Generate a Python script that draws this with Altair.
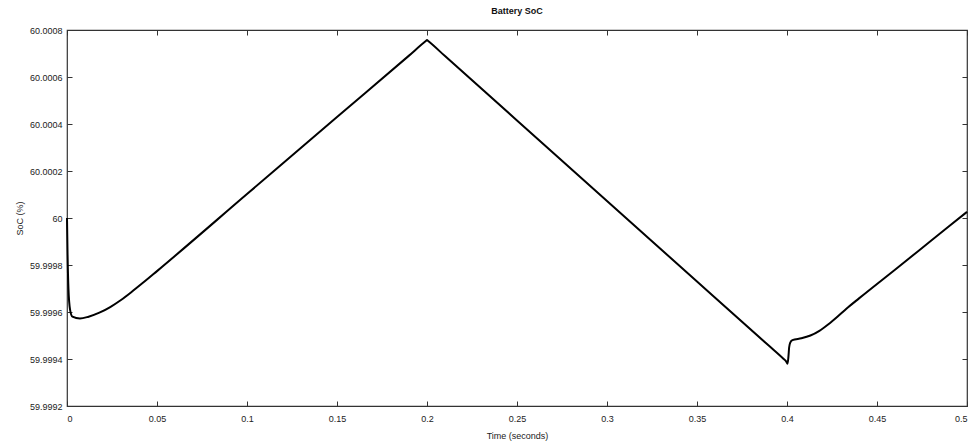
import altair as alt
import pandas as pd

# Time (s) and state of charge (%)
time_s = [0.0, 0.0003, 0.0008, 0.0017, 0.003, 0.0072, 0.012, 0.018, 0.024, 0.030,
          0.036, 0.042, 0.05, 0.1, 0.15, 0.19, 0.1995, 0.2, 0.2005, 0.21, 0.25,
          0.3, 0.35, 0.39, 0.398, 0.3995, 0.4003, 0.4008, 0.4012, 0.4018, 0.403,
          0.408, 0.413, 0.418, 0.423, 0.428, 0.433, 0.44, 0.46, 0.48, 0.5]
soc_pct = [60.0, 59.99985, 59.9997, 59.99961, 59.99958, 59.999572, 59.99958, 59.999597,
           59.999621, 59.999651, 59.999686, 59.999723, 59.999774, 60.000102, 60.00043,
           60.000691, 60.000754, 60.000757, 60.000754, 60.000689, 60.000415,
           60.000072, 59.99973, 59.999456, 59.999401, 59.99939,
           59.99938, 59.99941, 59.99945, 59.99947, 59.99948,
           59.999488, 59.9995, 59.99952, 59.999548, 59.99958, 59.999614, 59.999658,
           59.99978, 59.999903, 60.000026]

x_ticks = [0, 0.05, 0.1, 0.15, 0.2, 0.25, 0.3, 0.35, 0.4, 0.45, 0.5]
y_ticks = [59.9992, 59.9994, 59.9996, 59.9998, 60.0, 60.0002, 60.0004, 60.0006, 60.0008]

df = pd.DataFrame({"t": time_s, "soc": soc_pct})

FONT = "Liberation Sans"
xs = alt.Scale(domain=[0, 0.5], nice=False, zero=False)
ys = alt.Scale(domain=[59.9992, 60.0008], nice=False, zero=False)

main = alt.Chart(df).mark_line(color="black", strokeWidth=2, interpolate="monotone").encode(
    x=alt.X("t:Q", scale=xs, axis=alt.Axis(
        orient="bottom", values=x_ticks, format=".2~f", ticks=False, domain=False,
        grid=False, title="Time (seconds)", labelPadding=8, titlePadding=8)),
    y=alt.Y("soc:Q", scale=ys, axis=alt.Axis(
        orient="left", values=y_ticks, format=".6~r", ticks=False, domain=False,
        grid=False, title="SoC (%)", labelPadding=5, titlePadding=5)),
)

def tick_layer(xo, yo):
    return alt.Chart(df).mark_line(opacity=0).encode(
        x=alt.X("t:Q", scale=xs, axis=alt.Axis(
            orient=xo, values=x_ticks, labels=False, domain=False, grid=False,
            ticks=True, tickSize=5, offset=-5, tickColor="#333", title=None)),
        y=alt.Y("soc:Q", scale=ys, axis=alt.Axis(
            orient=yo, values=y_ticks, labels=False, domain=False, grid=False,
            ticks=True, tickSize=5, offset=-5, tickColor="#333", title=None)),
    )

chart = alt.layer(main, tick_layer("bottom", "left"), tick_layer("top", "right")).resolve_axis(
    x="independent", y="independent"
).properties(
    width=900, height=376,
    title=alt.TitleParams("Battery SoC", fontSize=9, fontWeight="bold", font=FONT,
                          color="#111", offset=10, anchor="middle"),
    padding={"left": 67, "top": 30, "right": 7, "bottom": 42},
    autosize=alt.AutoSizeParams(type="none"),
).configure_view(
    stroke="#333", strokeWidth=1.2
).configure_axis(
    labelFont=FONT, titleFont=FONT, labelFontSize=9, titleFontSize=9,
    labelColor="#222", titleColor="#222", titleFontWeight="normal"
)

chart.save("out.html", embed_options={"renderer": "svg", "actions": False})
